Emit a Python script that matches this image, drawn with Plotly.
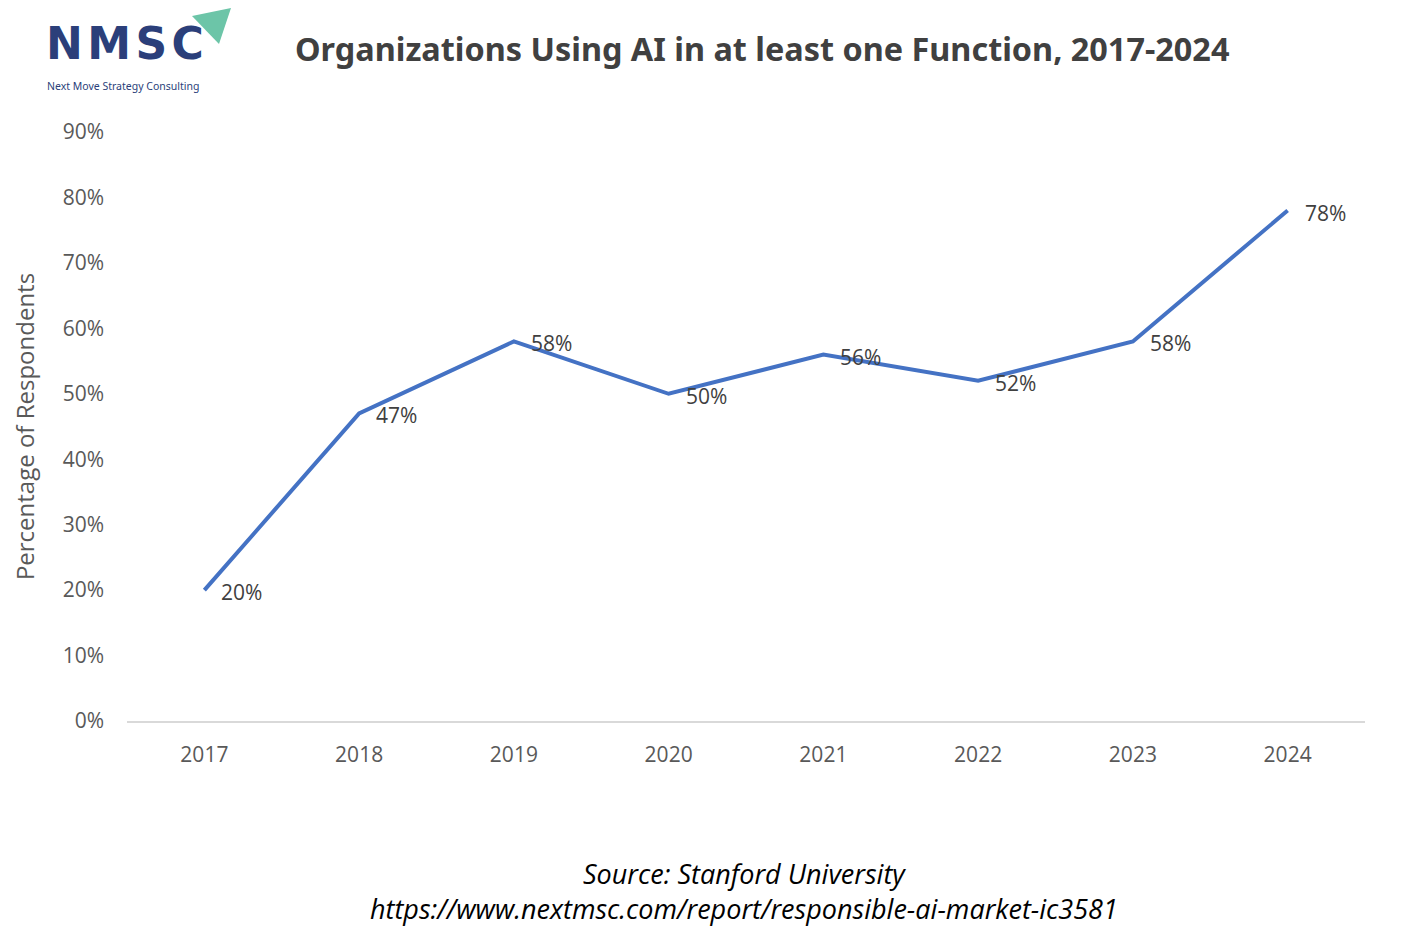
import plotly.graph_objects as go

years = ["2017", "2018", "2019", "2020", "2021", "2022", "2023", "2024"]
values = [0.20, 0.47, 0.58, 0.50, 0.56, 0.52, 0.58, 0.78]
labels = ["20%", "47%", "58%", "50%", "56%", "52%", "58%", "78%"]
y_ticks = [0, 0.1, 0.2, 0.3, 0.4, 0.5, 0.6, 0.7, 0.8, 0.9]
y_tick_text = ["0%", "10%", "20%", "30%", "40%", "50%", "60%", "70%", "80%", "90%"]

W, H = 1427, 943
OFF = 8  # page body margin
L, R, T, B = 127, 1365, 132, 721  # target plot box in screenshot pixels

fig = go.Figure()
fig.add_trace(go.Scatter(
    x=years, y=values, mode="lines",
    line=dict(color="#4472C4", width=4),
    hoverinfo="skip", showlegend=False,
))

for i, (y, t) in enumerate(zip(values, labels)):
    fig.add_annotation(x=i, y=y, text=t, showarrow=False, xanchor="left",
                       yanchor="middle", xshift=15, yshift=-2,
                       font=dict(family="Open Sans", size=21, color="#404040"))


def px(xp):
    return (xp - L) / (R - L)


def py(yp):
    return (B - yp) / (B - T)


# Title
fig.add_annotation(xref="paper", yref="paper", x=px(762), y=py(48),
                   text="<b>Organizations Using AI in at least one Function, 2017-2024</b>",
                   showarrow=False, xanchor="center", yanchor="middle",
                   font=dict(family="Noto Sans", size=32.4, color="#404040"))

# Source
fig.add_annotation(xref="paper", yref="paper", x=px(744), y=py(873),
                   text="<i>Source: Stanford University</i>",
                   showarrow=False, xanchor="center", yanchor="middle",
                   font=dict(family="Open Sans", size=27, color="#000000"))
fig.add_annotation(xref="paper", yref="paper", x=px(744), y=py(908),
                   text="<i>https://www.nextmsc.com/report/responsible-ai-market-ic3581</i>",
                   showarrow=False, xanchor="center", yanchor="middle",
                   font=dict(family="Open Sans", size=27, color="#000000"))

# Logo
fig.add_annotation(xref="paper", yref="paper", x=px(44), y=py(43),
                   text="<b>N\u200aM\u200aS\u200aC</b>",
                   showarrow=False, xanchor="left", yanchor="middle",
                   font=dict(family="DejaVu Sans", size=44, color="#2B3F7A"))
fig.add_annotation(xref="paper", yref="paper", x=px(45), y=py(86),
                   text="Next Move Strategy Consulting",
                   showarrow=False, xanchor="left", yanchor="middle",
                   font=dict(family="Noto Sans", size=10.5, color="#2B3F7A"))
fig.add_shape(type="path", xref="paper", yref="paper",
              path=f"M {px(192)} {py(16)} L {px(231)} {py(8)} L {px(219)} {py(44)} Z",
              fillcolor="#6CC5A8", line=dict(width=0))

fig.update_layout(
    width=W, height=H,
    margin=dict(l=L - OFF, r=W - R + OFF, t=T - OFF, b=H - B + OFF),
    paper_bgcolor="white", plot_bgcolor="white",
    xaxis=dict(type="category", range=[-0.5, 7.5], showgrid=False,
               showline=True, linecolor="#D9D9D9", linewidth=1.5,
               ticks="", ticklabelstandoff=14,
               tickfont=dict(family="Open Sans", size=21, color="#595959"),
               zeroline=False, fixedrange=True),
    yaxis=dict(range=[0, 0.9], tickvals=y_ticks, ticktext=y_tick_text,
               showgrid=False, zeroline=False, showline=False, ticks="",
               ticklabelstandoff=22,
               tickfont=dict(family="Open Sans", size=21, color="#595959"),
               title=dict(text="Percentage of Respondents", standoff=23,
                          font=dict(family="Open Sans", size=24, color="#595959")),
               fixedrange=True),
)

fig.write_html("out.html")
